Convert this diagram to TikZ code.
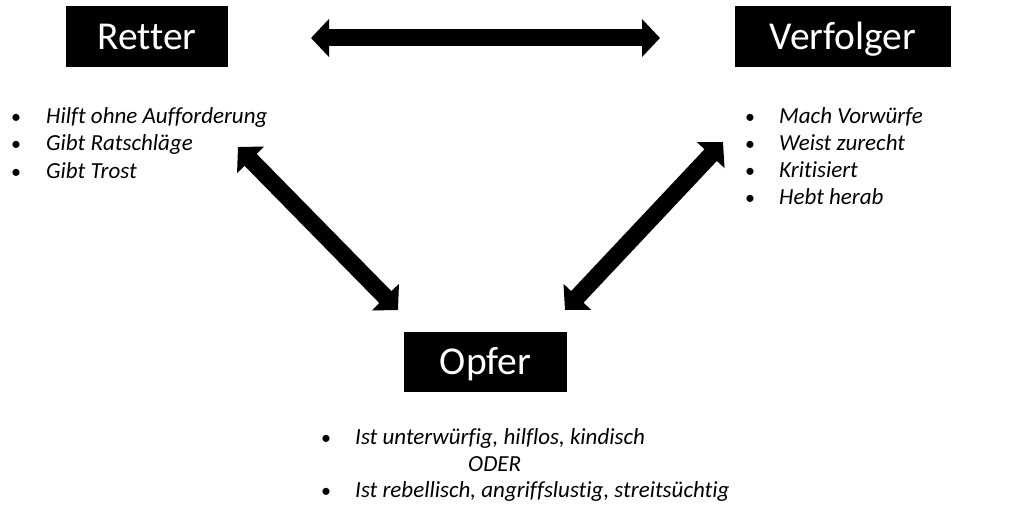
\documentclass[tikz,border=0pt]{standalone}
\usepackage{fontspec}
\setmainfont{Carlito}[Ligatures={NoCommon,NoContextual}]
\usetikzlibrary{arrows.meta}
\tikzset{
  role/.style={fill=black, text=white, inner sep=0pt, font=\fontsize{39.5}{47}\selectfont, text height=31pt, text depth=6pt},
  item/.style={anchor=base west, inner sep=0pt, font=\fontsize{23}{27}\selectfont\itshape},
  dot/.style={anchor=base, inner sep=0pt, font=\fontsize{20}{24}\selectfont},
  dbl/.style={line width=17pt, {Triangle[length=18pt,width=37pt]}-{Triangle[length=18pt,width=37pt]}},
}
\begin{document}
\begin{tikzpicture}[x=1pt,y=-1pt]
\useasboundingbox (0,0) rectangle (1024,519);
\node[role, minimum width=162pt, minimum height=60pt] (retter) at (147,36.5) {Retter};
\node[role, minimum width=216pt, minimum height=61pt] (verfolger) at (843,36.5) {Verfolger};
\node[role, minimum width=163pt, minimum height=60pt] (opfer) at (485.5,362) {Opfer};

% Retter list
\foreach \t/\y [count=\i] in {Hilft ohne Aufforderung/123, Gibt Ratschläge/150.5, Gibt Trost/178}{
  \node[dot] (rd\i) at (16,\y) {•};
  \node[item] (ri\i) at (46,\y) {\t};
}
% Verfolger list
\foreach \t/\y [count=\i] in {Mach Vorwürfe/123, Weist zurecht/150, Kritisiert/177, Hebt herab/204}{
  \node[dot] (vd\i) at (750,\y) {•};
  \node[item] (vi\i) at (779,\y) {\t};
}
% Opfer list
\node[dot] (od1) at (326,444) {•};
\node[item] (oi1) at (355,444) {Ist unterwürfig, hilflos, kindisch};
\node[item] (oder) at (468,471) {ODER};
\node[dot] (od2) at (326,497) {•};
\node[item] (oi2) at (355,497) {Ist rebellisch, angriffslustig, streitsüchtig};

% arrows
\coordinate (h1) at (311,38);
\coordinate (h2) at (660,38);
\coordinate (l1) at (238,147);
\coordinate (l2) at (398,310);
\coordinate (r1) at (723,142);
\coordinate (r2) at (565,310);
\draw[dbl] (h1) -- (h2);
\draw[dbl] (l1) -- (l2);
\draw[dbl] (r1) -- (r2);
\end{tikzpicture}
\end{document}
